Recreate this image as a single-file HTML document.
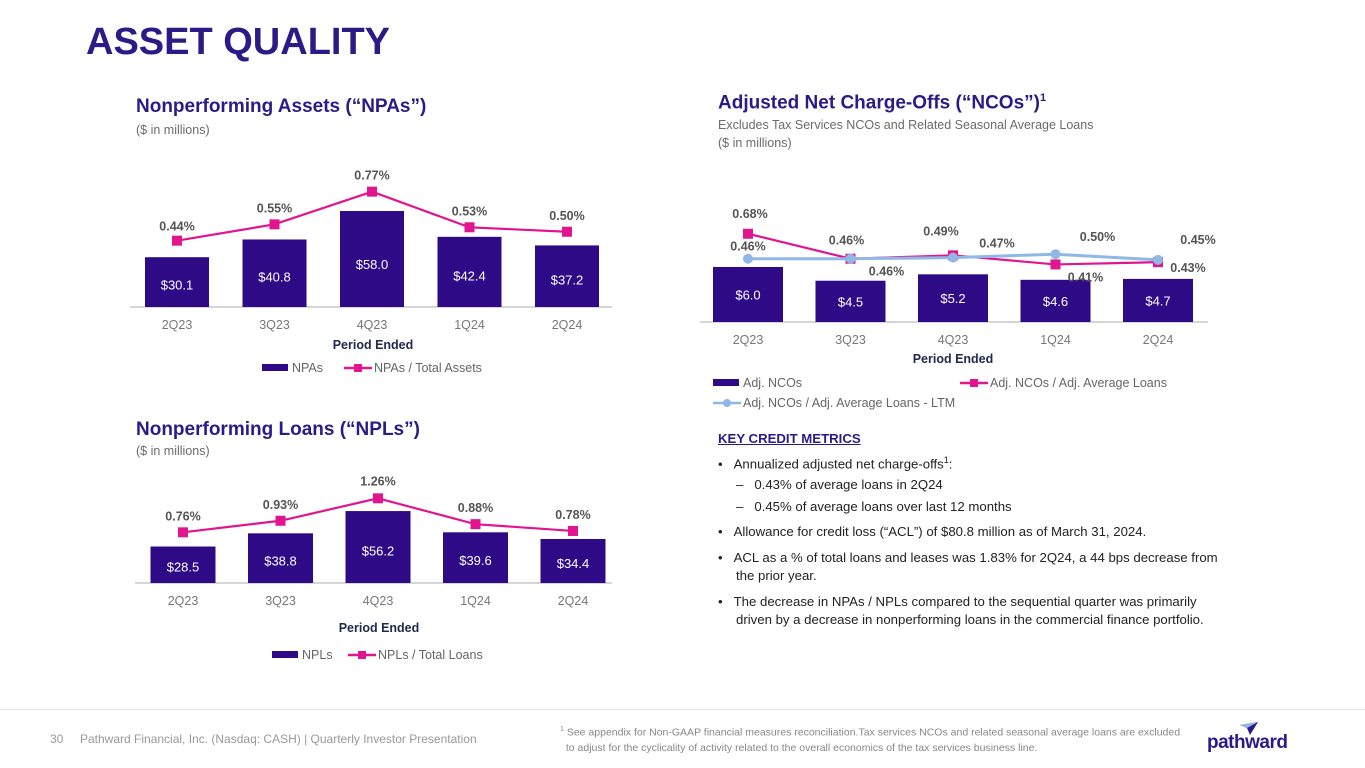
<!DOCTYPE html>
<html><head><meta charset="utf-8"><style>
body{margin:0;width:1365px;height:768px;background:#fff;font-family:"Liberation Sans",Arial,sans-serif;overflow:hidden;position:relative}
.a{position:absolute;white-space:nowrap}
.h{color:#2e1a87;font-weight:bold;font-size:19px}
.s{color:#6b6b6b;font-size:12.5px}
</style></head><body>
<div class="a" style="left:86px;top:21px;font-size:38px;font-weight:bold;color:#2e1a87">ASSET QUALITY</div>
<div class="a h" style="left:136px;top:96px">Nonperforming Assets (“NPAs”)</div>
<div class="a s" style="left:136px;top:123px">($ in millions)</div>
<div class="a h" style="left:718px;top:92px">Adjusted Net Charge-Offs (“NCOs”)<sup style="font-size:11px">1</sup></div>
<div class="a s" style="left:718px;top:118px">Excludes Tax Services NCOs and Related Seasonal Average Loans</div>
<div class="a s" style="left:718px;top:136px">($ in millions)</div>
<div class="a h" style="left:136px;top:419px">Nonperforming Loans (“NPLs”)</div>
<div class="a s" style="left:136px;top:444px">($ in millions)</div>

<div class="a" style="left:718px;top:430px;font-size:13.2px;color:#222;line-height:18.5px;white-space:normal;width:512px">
<div style="font-weight:bold;text-decoration:underline;color:#2e1a87;margin-bottom:2px">KEY CREDIT METRICS</div>
<div>•&nbsp;&nbsp;&nbsp;Annualized adjusted net charge-offs<sup style="font-size:9px">1</sup>:</div>
<div style="margin-left:18px;margin-top:3px">–&nbsp;&nbsp;&nbsp;0.43% of average loans in 2Q24</div>
<div style="margin-left:18px;margin-top:3px">–&nbsp;&nbsp;&nbsp;0.45% of average loans over last 12 months</div>
<div style="margin-top:7px">•&nbsp;&nbsp;&nbsp;Allowance for credit loss (“ACL”) of $80.8 million as of March 31, 2024.</div>
<div style="margin-top:7px;padding-left:18px;text-indent:-18px">•&nbsp;&nbsp;&nbsp;ACL as a % of total loans and leases was 1.83% for 2Q24, a 44 bps decrease from the prior year.</div>
<div style="margin-top:7px;padding-left:18px;text-indent:-18px">•&nbsp;&nbsp;&nbsp;The decrease in NPAs / NPLs compared to the sequential quarter was primarily driven by a decrease in nonperforming loans in the commercial finance portfolio.</div>
</div>

<div class="a" style="left:0;top:709px;width:1365px;height:1px;background:#e4e4e4"></div>
<div class="a" style="left:50px;top:732px;font-size:12px;color:#999">30</div>
<div class="a" style="left:80px;top:732px;font-size:12px;color:#999">Pathward Financial, Inc. (Nasdaq: CASH) | Quarterly Investor Presentation</div>
<div class="a" style="left:560px;top:722px;font-size:10.5px;color:#888;line-height:15px"><sup style="font-size:7px">1</sup> See appendix for Non-GAAP financial measures reconciliation.Tax services NCOs and related seasonal average loans are excluded<br>&nbsp;&nbsp;to adjust for the cyclicality of activity related to the overall economics of the tax services business line.</div>
<div class="a" style="left:1207px;top:732px;font-size:19px;font-weight:bold;color:#2e1a87;letter-spacing:-0.5px">pathward</div>
<svg class="a" style="left:1238px;top:722px" width="22" height="14"><polygon points="2,3 20,0 12,13 9,6" fill="#2e1a87"/><polygon points="2,3 20,0 9,6" fill="#8fb4e8"/></svg>

<svg id="c" class="a" style="left:0;top:0" width="1365" height="768"></svg>
<script>
const cats = ["2Q23","3Q23","4Q23","1Q24","2Q24"];
const npaVals = [30.1,40.8,58.0,42.4,37.2];
const npaPct = [0.44,0.55,0.77,0.53,0.50];
const nplVals = [28.5,38.8,56.2,39.6,34.4];
const nplPct = [0.76,0.93,1.26,0.88,0.78];
const ncoVals = [6.0,4.5,5.2,4.6,4.7];
const ncoPct = [0.68,0.46,0.49,0.41,0.43];
const ncoLtm = [0.46,0.46,0.47,0.50,0.45];

const NS="http://www.w3.org/2000/svg";
const svg=document.getElementById('c');
function mk(tag,attrs,txt){const e=document.createElementNS(NS,tag);for(const k in attrs)e.setAttribute(k,attrs[k]);if(txt!==undefined)e.textContent=txt;svg.appendChild(e);return e;}
function txt(x,y,s,o){return mk('text',Object.assign({x:x,y:y,'text-anchor':'middle','font-family':'Liberation Sans, Arial, sans-serif','font-size':12.5,fill:'#777'},o||{}),s);}

function chart(cfg){
  const xc=i=>cfg.x0+i*cfg.step;
  const yb=v=>cfg.base-v*cfg.bs;
  const yl=v=>cfg.lz-v*cfg.ls;
  const ax=mk('line',{x1:cfg.ax1,x2:cfg.ax2,y1:cfg.base,y2:cfg.base,stroke:'#c8c8c8','stroke-width':1.5});
  
  
  cfg.bars.forEach((v,i)=>{
    const r=mk('rect',{x:xc(i)-cfg.bw/2,y:yb(v),width:cfg.bw,height:cfg.base-yb(v),fill:'#2e0a87'});
    
    
    const ty=cfg.labMid?(yb(v)+cfg.base)/2+5:yb(v)+(cfg.base-yb(v))*0.55+5;
    const t=txt(xc(i),ty,'$'+v.toFixed(1),{fill:'#fff','font-size':13});
    
    
    const c=txt(xc(i),cfg.base+22,cats[i],{'font-size':12.5,fill:'#777'});
    
    
  });
  cfg.lines.forEach(L=>{
    const pl=mk('polyline',{points:L.vals.map((v,i)=>xc(i)+','+yl(v)).join(' '),fill:'none',stroke:L.color,'stroke-width':L.w});
    
    
    L.vals.forEach((v,i)=>{
      let m;
      if(L.circle)m=mk('circle',{cx:xc(i),cy:yl(v),r:5,fill:L.color});
      else m=mk('rect',{x:xc(i)-5,y:yl(v)-5,width:10,height:10,fill:L.color});
      
      
      const off=L.off?L.off[i]:[0,-15];
      const t=txt(xc(i)+off[0],yl(v)+off[1],v.toFixed(2)+'%',{'font-weight':'bold',fill:'#555','font-size':12.5});
      
      
    });
  });
  const pe=txt(cfg.pex,cfg.base+cfg.peOff,'Period Ended',{'font-weight':'bold',fill:'#1f2a4a','font-size':12.5});
  
  
  cfg.legend.forEach(g=>{
    if(g.type==='bar'){const r=mk('rect',{x:g.x,y:g.y-4,width:26,height:7,fill:'#2e0a87'});}
    else{const l=mk('line',{x1:g.x,x2:g.x+28,y1:g.y,y2:g.y,stroke:g.color,'stroke-width':2.5});
      const m=g.type==='circle'?mk('circle',{cx:g.x+14,cy:g.y,r:4,fill:g.color}):mk('rect',{x:g.x+10,y:g.y-4,width:8,height:8,fill:g.color});}
    const t=txt(g.x+30,g.y+4,g.label,{'text-anchor':'start',fill:'#666','font-size':12.5});
    
    
  });
}

chart({id:'npa',x0:177,step:97.5,bw:64,base:307,bs:1.655,lz:306,ls:148.5,ax1:130,ax2:612,pex:373,peOff:42,
  bars:npaVals,lines:[{name:'npa-ratio-line',vals:npaPct,color:'#e0158f',w:2.2,off:[[0,-10],[0,-12],[0,-12],[0,-12],[0,-12]]}],
  legend:[{type:'bar',x:262,y:368,label:'NPAs'},{type:'sq',x:344,y:368,color:'#e0158f',label:'NPAs / Total Assets'}]});
chart({id:'npl',x0:183,step:97.5,bw:65,base:583,bs:1.28,lz:584,ls:68,ax1:135,ax2:612,pex:379,peOff:49,
  bars:nplVals,lines:[{name:'npl-ratio-line',vals:nplPct,color:'#e0158f',w:2.2,off:[[0,-12],[0,-12],[0,-13],[0,-12],[0,-12]]}],
  legend:[{type:'bar',x:272,y:655,label:'NPLs'},{type:'sq',x:348,y:655,color:'#e0158f',label:'NPLs / Total Loans'}]});
chart({id:'nco',x0:748,step:102.5,bw:70,base:322,bs:9.17,lz:311,ls:113.6,ax1:700,ax2:1208,pex:953,peOff:41,labMid:true,
  bars:ncoVals,lines:[
   {name:'nco-ratio-line',vals:ncoPct,color:'#e0158f',w:2.2,off:[[2,-16],[36,17],[-12,-20],[30,17],[30,10]]},
   {name:'nco-ltm-line',vals:ncoLtm,color:'#8fb8e6',w:3,circle:true,off:[[0,-8],[-4,-14],[44,-10],[42,-13],[40,-16]]}],
  legend:[{type:'bar',x:713,y:383,label:'Adj. NCOs'},{type:'sq',x:960,y:383,color:'#e0158f',label:'Adj. NCOs / Adj. Average Loans'},{type:'circle',x:713,y:403,color:'#8fb8e6',label:'Adj. NCOs / Adj. Average Loans - LTM'}]});
</script>
</body></html>
